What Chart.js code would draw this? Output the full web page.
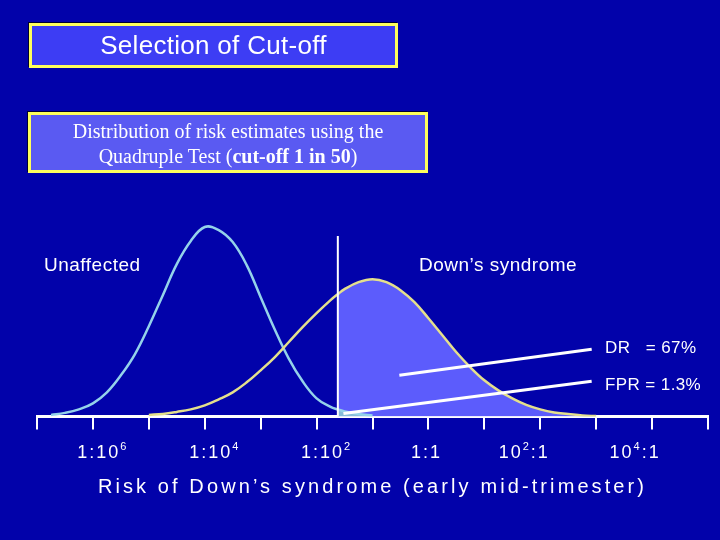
<!DOCTYPE html>
<html>
<head>
<meta charset="utf-8">
<script src="https://cdn.jsdelivr.net/npm/chart.js@4.4.1/dist/chart.umd.min.js"></script>
<style>
  html, body { margin: 0; padding: 0; background: #0202aa; }
  #wrap { position: relative; width: 720px; height: 540px; overflow: hidden; }
  #chart { position: absolute; left: 0; top: 0; }
  .box {
    position: absolute; box-sizing: border-box; border: 3px solid #ffff5c;
    box-shadow: -1px -1px 0 #000033; color: #fff; text-align: center;
  }
  .title { left: 29px; top: 23px; width: 369px; height: 45px; background: #3d3df4;
    font: 26px "Liberation Sans", Arial, sans-serif; line-height: 39px; letter-spacing: 0.3px; }
  .sub { left: 28px; top: 112px; width: 400px; height: 61px; background: #5a5af2;
    font: 20px "Liberation Serif", "Times New Roman", serif; line-height: 25px; padding-top: 4px; }
  .lbl { position: absolute; color: #fff; font-family: "Liberation Sans", Arial, sans-serif; white-space: pre; }
  .big { font-size: 19px; line-height: 22px; letter-spacing: 0.5px; }
  .small { font-size: 17px; line-height: 20px; letter-spacing: 0.4px; }
</style>
</head>
<body>
<div id="wrap">
  <canvas id="chart" width="720" height="540"></canvas>
  <div class="box title">Selection of Cut-off</div>
  <div class="box sub">Distribution of risk estimates using the<br>Quadruple Test (<b>cut-off 1 in 50</b>)</div>
  <div class="lbl big" style="left:44px; top:254px;">Unaffected</div>
  <div class="lbl big" style="left:419px; top:254px;">Down’s syndrome</div>
  <div class="lbl small" style="left:605px; top:338px;">DR   = 67%</div>
  <div class="lbl small" style="left:605px; top:375px;">FPR = 1.3%</div>
</div>
<script>
// ——— data (x = log10 of risk odds, y = curve height) ———
const unaffX = [-6.75, -6.5, -6.25, -6.0, -5.75, -5.5, -5.25, -5.0, -4.75, -4.5, -4.25, -4.0, -3.75, -3.5, -3.25, -3.0, -2.75, -2.5, -2.25, -2.0, -1.75, -1.62, -1.5, -1.25, -1.0];
const unaffY = [1.5, 3.5, 7, 13, 24, 41, 62, 90, 121, 152, 175, 189, 186, 174, 151, 119, 87, 58, 35, 18, 9.5, 7, 5, 2.5, 1];

const downsX = [-5.0, -4.75, -4.5, -4.25, -4.0, -3.75, -3.5, -3.25, -3.0, -2.75, -2.5, -2.25, -2.0, -1.75, -1.62, -1.5, -1.25, -1.0, -0.75, -0.5, -0.25, 0.0, 0.25, 0.5, 0.75, 1.0, 1.25, 1.5, 1.75, 2.0, 2.25, 2.5, 2.75, 3.0];
const downsY = [1.5, 2.5, 4.5, 7, 11, 17, 24, 34, 46, 59, 74, 89, 103, 116, 122, 127, 134, 137, 134, 126, 114, 98, 81, 64, 49, 36, 26, 18, 11.5, 7, 4, 2.5, 1, 0.3];

const cutoff = -1.62;          // 1 in 50
const cutoffTop = 180;

// pointer lines to the DR / FPR labels
const drLineX = [-0.52, 2.92];
const drLineY = [41, 67];
const fprLineX = [-1.52, 2.92];
const fprLineY = [3, 35];

const tickValues = [-6, -4, -2, 0, 2, 4];
const tickLabels = ['1:10⁶', '1:10⁴', '1:10²', '1:1', '10²:1', '10⁴:1'];
const tickNudge = [10, 10, 10, -2, -16, -17];   // labels sit a little off their ticks in the slide

const pts = (xs, ys) => xs.map((x, i) => ({ x, y: ys[i] }));
const rightOfCut = arr => arr.filter(p => p.x >= cutoff);

const FONT = '"Liberation Sans", Arial, sans-serif';
const SUP = '⁰¹²³⁴⁵⁶⁷⁸⁹';

// letter spacing for the axis title, then tick labels with raised exponents
const axisText = {
  id: 'axisText',
  beforeDraw(chart) { chart.ctx.letterSpacing = '3.1px'; },
  beforeDatasetsDraw(chart) { chart.ctx.letterSpacing = '0px'; },
  afterDraw(chart) {
    const ctx = chart.ctx, sx = chart.scales.x;
    const base = sx.top + 42;
    ctx.save();
    ctx.fillStyle = '#ffffff';
    ctx.textBaseline = 'alphabetic';
    ctx.textAlign = 'left';
    ctx.letterSpacing = '2px';
    tickLabels.forEach((lab, i) => {
      const parts = [...lab].map(ch => {
        const k = SUP.indexOf(ch);
        return k >= 0 ? { t: String(k), sup: true } : { t: ch, sup: false };
      });
      let w = 0;
      parts.forEach(p => {
        ctx.font = (p.sup ? '11px ' : '18px ') + FONT;
        p.w = ctx.measureText(p.t).width;
        w += p.w;
      });
      let x = sx.getPixelForValue(tickValues[i]) + tickNudge[i] - w / 2;
      parts.forEach(p => {
        ctx.font = (p.sup ? '11px ' : '18px ') + FONT;
        ctx.fillText(p.t, x, p.sup ? base - 8 : base);
        x += p.w;
      });
    });
    ctx.restore();
    ctx.letterSpacing = '0px';
  }
};

const line = (data, color, width, order) => ({
  data, borderColor: color, borderWidth: width, pointRadius: 0,
  fill: false, tension: 0.4, order
});

new Chart(document.getElementById('chart'), {
  type: 'line',
  data: {
    datasets: [
      { data: rightOfCut(pts(downsX, downsY)), borderWidth: 0, pointRadius: 0, fill: 'origin',
        backgroundColor: '#5c5cfc', tension: 0.4, order: 10 },
      { data: rightOfCut(pts(unaffX, unaffY)), borderWidth: 0, pointRadius: 0, fill: 'origin',
        backgroundColor: 'rgba(150,220,205,0.75)', tension: 0.4, order: 9 },
      line(pts(unaffX, unaffY), '#94d2ea', 2.5, 5),
      line(pts(downsX, downsY), '#e4e08c', 2.5, 4),
      { ...line([{ x: cutoff, y: 0 }, { x: cutoff, y: cutoffTop }], '#ffffff', 2, 3), tension: 0 },
      { ...line(pts(drLineX, drLineY), '#ffffff', 3, 1), tension: 0 },
      { ...line(pts(fprLineX, fprLineY), '#ffffff', 3, 1), tension: 0 }
    ]
  },
  options: {
    responsive: false,
    animation: false,
    layout: { padding: { left: 37, right: 9, top: 216, bottom: 35 } },
    plugins: { legend: { display: false }, tooltip: { enabled: false } },
    scales: {
      x: {
        type: 'linear', min: -7, max: 5,
        grid: { drawOnChartArea: false, drawTicks: true, tickLength: 13, color: '#ffffff', lineWidth: 2 },
        border: { display: true, color: '#ffffff', width: 3 },
        ticks: {
          stepSize: 1, autoSkip: false, maxRotation: 0, padding: 12,
          color: 'rgba(0,0,0,0)', font: { family: FONT, size: 18 },
          callback: v => { const i = tickValues.indexOf(v); return i >= 0 ? tickLabels[i] : ''; }
        },
        title: {
          display: true, text: 'Risk of Down’s syndrome (early mid-trimester)', color: '#ffffff',
          font: { family: FONT, size: 20 },
          padding: { top: 0, bottom: 6 }
        }
      },
      y: { display: false, min: 0, max: 200 }
    }
  },
  plugins: [axisText]
});
</script>
</body>
</html>
